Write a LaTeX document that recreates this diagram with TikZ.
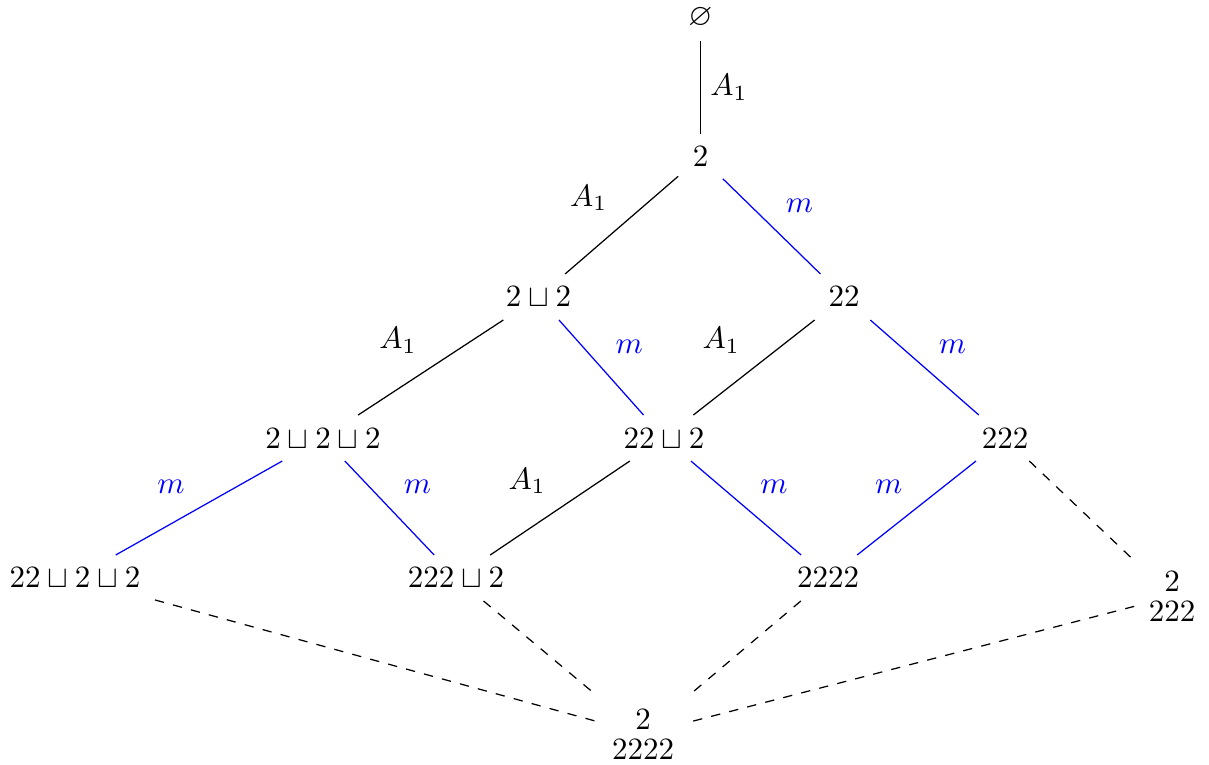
\documentclass[tikz,border=0pt]{standalone}
\usepackage{amsmath}
\usepackage{amssymb}
\usepackage{xcolor}
\usepackage{tikz}
\usetikzlibrary{positioning,calc}

\tikzset{
  stratum/.style={inner xsep=4.5pt,inner ysep=4pt},
  stack/.style={stratum,align=center},
  lab/.style={inner sep=3pt},
  seg/.style={thin},
  mseg/.style={thin,blue},
  dseg/.style={thin,dashed}
}

\begin{document}
\begin{tikzpicture}
 \useasboundingbox (0,0) rectangle (13.707,8.673);
 \node[stratum] (e)      at (7.942,8.475) {$\varnothing$};
 \node[stratum] (t)      at (7.942,6.893) {$2$};
 \node[stratum] (tt)     at (6.105,5.306) {$2\sqcup 2$};
 \node[stratum] (d)      at (9.569,5.306) {$22$};
 \node[stratum] (ttt)    at (3.662,3.707) {$2\sqcup 2\sqcup 2$};
 \node[stratum] (dt)     at (7.528,3.707) {$22\sqcup 2$};
 \node[stratum] (r)      at (11.395,3.707) {$222$};
 \node[stratum] (dtt)    at (0.850,2.120) {$22\sqcup 2\sqcup 2$};
 \node[stratum] (rt)     at (5.170,2.120) {$222\sqcup 2$};
 \node[stratum] (q)      at (9.388,2.120) {$2222$};
 \node[stack]   (rs)     at (13.288,1.910) {$2$\\[-2.3pt]$222$};
 \node[stack]   (qs)     at (7.290,0.350) {$2$\\[-2.3pt]$2222$};

 \draw[seg]  (e) -- node[lab,right] {$A_1$} (t);
 \draw[seg]  (t) -- node[lab,above left=2pt] {$A_1$} (tt);
 \draw[mseg] (t) -- node[lab,above right=2pt] {$m$} (d);
 \draw[seg]  (tt) -- node[lab,above left=2pt] {$A_1$} (ttt);
 \draw[mseg] (tt) -- node[lab,above right=2pt] {$m$} (dt);
 \draw[seg]  (d) -- node[lab,above left=2pt] {$A_1$} (dt);
 \draw[mseg] (d) -- node[lab,above right=2pt] {$m$} (r);
 \draw[mseg] (ttt) -- node[lab,above left=2pt] {$m$} (dtt);
 \draw[mseg] (ttt) -- node[lab,above right=2pt] {$m$} (rt);
 \draw[seg]  (dt) -- node[lab,above left=2pt] {$A_1$} (rt);
 \draw[mseg] (dt) -- node[lab,above right=2pt] {$m$} (q);
 \draw[mseg] (r) -- node[lab,above left=2pt] {$m$} (q);
 \draw[dseg] (r) -- (rs);
 \draw[dseg] (dtt) -- (qs);
 \draw[dseg] (rt) -- (qs);
 \draw[dseg] (q) -- (qs);
 \draw[dseg] (rs) -- (qs);
\end{tikzpicture}
\end{document}
